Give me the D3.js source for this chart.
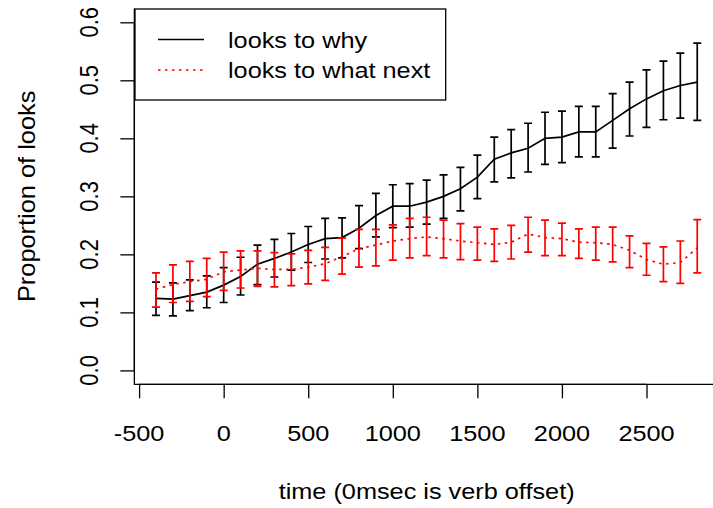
<!DOCTYPE html>
<html><head><meta charset="utf-8">
<script src="https://cdn.jsdelivr.net/npm/d3@7"></script>
<style>body{margin:0;background:#fff}svg{display:block}</style>
</head><body>
<svg id="c" width="713" height="508"></svg>
<script>
const time = [-400,-300,-200,-100,0,100,200,300,400,500,600,700,800,900,1000,1100,1200,1300,1400,1500,1600,1700,1800,1900,2000,2100,2200,2300,2400,2500,2600,2700,2800];
const whyMean = [0.124,0.123,0.129,0.135,0.147,0.162,0.183,0.193,0.204,0.217,0.227,0.229,0.245,0.267,0.283,0.283,0.290,0.300,0.313,0.333,0.364,0.375,0.383,0.400,0.402,0.411,0.411,0.431,0.451,0.468,0.482,0.491,0.497];
const whyHi = [0.152,0.151,0.156,0.163,0.177,0.195,0.216,0.226,0.236,0.248,0.262,0.263,0.284,0.305,0.320,0.322,0.328,0.337,0.350,0.371,0.402,0.415,0.426,0.445,0.447,0.455,0.455,0.477,0.497,0.518,0.533,0.547,0.564];
const whyLo = [0.095,0.094,0.103,0.108,0.117,0.130,0.148,0.161,0.173,0.186,0.192,0.194,0.210,0.230,0.246,0.247,0.252,0.262,0.275,0.296,0.325,0.332,0.342,0.355,0.358,0.368,0.368,0.383,0.404,0.419,0.432,0.435,0.431];
const nextMean = [0.140,0.148,0.153,0.157,0.170,0.173,0.176,0.174,0.174,0.178,0.184,0.196,0.210,0.216,0.223,0.227,0.230,0.227,0.223,0.220,0.217,0.221,0.235,0.229,0.227,0.221,0.220,0.217,0.207,0.191,0.183,0.186,0.211];
const nextHi = [0.168,0.182,0.188,0.193,0.204,0.206,0.206,0.203,0.201,0.207,0.212,0.228,0.243,0.243,0.251,0.262,0.264,0.259,0.253,0.247,0.244,0.250,0.264,0.259,0.254,0.244,0.247,0.247,0.232,0.219,0.213,0.223,0.260];
const nextLo = [0.109,0.117,0.119,0.127,0.138,0.142,0.145,0.144,0.146,0.149,0.155,0.166,0.178,0.180,0.190,0.194,0.198,0.194,0.191,0.190,0.188,0.192,0.204,0.198,0.198,0.193,0.190,0.187,0.177,0.164,0.153,0.150,0.168];
const xTicks = [-500,0,500,1000,1500,2000,2500];
const yTicks = [0,0.1,0.2,0.3,0.4,0.5,0.6];
const yTickLabels = ["0.0","0.1","0.2","0.3","0.4","0.5","0.6"];
const seriesNames = ["looks to why","looks to what next"];

(function(){
const svg = d3.select("#c");
const FONT = "'Liberation Sans', Arial, Helvetica, sans-serif";
const FS = 22, SX = 1.15;
const x = d3.scaleLinear().domain([-500,2500]).range([139.1,646.5]);
const y = d3.scaleLinear().domain([0,0.6]).range([370.4,22.3]);
const pL = x(-528), pR = x(2928), pT = y(0.624), pB = y(-0.024);

// box (L shape)
svg.append("path").attr("d",`M${pL},${pT}V${pB}H${pR}`)
  .attr("fill","none").attr("stroke","#000").attr("stroke-width",1.3);

// x axis
const xa = svg.append("g").attr("transform",`translate(0,${pB})`)
  .call(d3.axisBottom(x).tickValues(xTicks).tickSize(14).tickSizeOuter(0));
xa.select(".domain").attr("d",`M${x(-500)},0H${x(2500)}`).attr("stroke-width",1.3);
xa.selectAll(".tick line").attr("stroke-width",1.3);
xa.selectAll(".tick text").remove();
xTicks.forEach(v=>{
  svg.append("text").attr("transform",`translate(${x(v)},441) scale(${SX},1)`)
    .attr("text-anchor","middle").attr("font-family",FONT).attr("font-size",FS).text(String(v));
});

// y axis
const ya = svg.append("g").attr("transform",`translate(${pL},0)`)
  .call(d3.axisLeft(y).tickValues(yTicks).tickSize(14).tickSizeOuter(0));
ya.select(".domain").attr("d",`M0,${y(0)}V${y(0.6)}`).attr("stroke-width",1.3);
ya.selectAll(".tick line").attr("stroke-width",1.3);
ya.selectAll(".tick text").remove();
yTicks.forEach((v,i)=>{
  svg.append("text").attr("transform",`translate(98,${y(v)}) scale(${SX},1) rotate(-90)`)
    .attr("text-anchor","middle").attr("font-family",FONT).attr("font-size",FS).text(yTickLabels[i]);
});

// axis titles
svg.append("text").attr("transform",`translate(${(pL+pR)/2},499) scale(${SX},1)`)
  .attr("text-anchor","middle").attr("font-family",FONT).attr("font-size",FS).text("time (0msec is verb offset)");
svg.append("text").attr("transform",`translate(35,${(pT+pB)/2}) rotate(-90) scale(1.08,1)`)
  .attr("text-anchor","middle").attr("font-family",FONT).attr("font-size",23.5).text("Proportion of looks");

const line = d3.line().x(d=>x(d[0])).y(d=>y(d[1]));
function drawSeries(mean, lo, hi, color, dash){
  const pts = time.map((t,i)=>[t,mean[i]]);
  svg.append("path").attr("d",line(pts)).attr("fill","none").attr("stroke",color)
    .attr("stroke-width",1.7).attr("stroke-dasharray",dash);
  const g = svg.append("g").attr("stroke",color).attr("stroke-width",1.7).attr("fill","none");
  time.forEach((t,i)=>{
    const cx = x(t), y1 = y(lo[i]), y2 = y(hi[i]), h = 4;
    g.append("path").attr("d",`M${cx},${y1}V${y2}M${cx-h},${y1}H${cx+h}M${cx-h},${y2}H${cx+h}`);
  });
}
drawSeries(whyMean, whyLo, whyHi, "#000", null);
drawSeries(nextMean, nextLo, nextHi, "#ff0000", "2.5,4.5");

// legend
const lg = svg.append("g");
lg.append("rect").attr("x",135).attr("y",9).attr("width",310.7).attr("height",91)
  .attr("fill","#fff").attr("stroke","#000").attr("stroke-width",1.3);
const colors = ["#000","#ff0000"], dashes=[null,"2.5,4.5"], ly=[39.5,70];
seriesNames.forEach((s,i)=>{
  lg.append("line").attr("x1",158).attr("x2",204).attr("y1",ly[i]).attr("y2",ly[i])
    .attr("stroke",colors[i]).attr("stroke-width",1.5).attr("stroke-dasharray",dashes[i]);
  lg.append("text").attr("transform",`translate(228,${ly[i]+8}) scale(${SX},1)`)
    .attr("font-family",FONT).attr("font-size",FS).text(s);
});
})();
</script>
</body></html>
